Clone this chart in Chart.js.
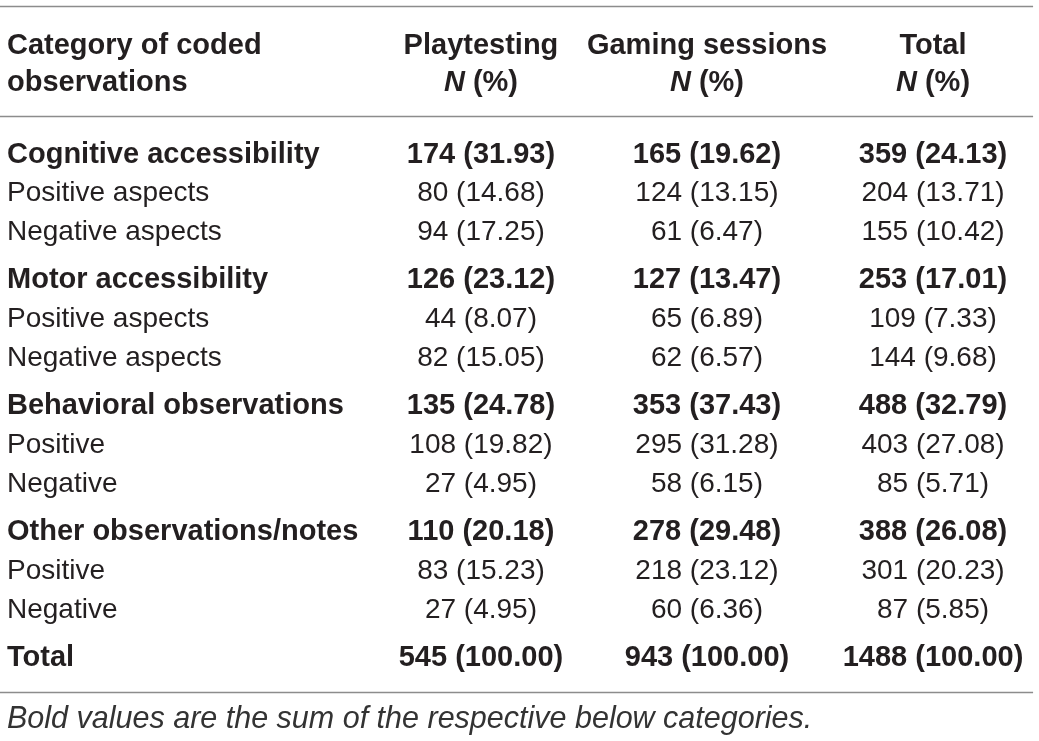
<!DOCTYPE html>
<html>
<head>
<meta charset="utf-8">
<script src="https://cdn.jsdelivr.net/npm/chart.js@4.4.1/dist/chart.umd.min.js"></script>
<style>
  body { margin: 0; background: #fff; }
  #tableChart { display: block; }
</style>
</head>
<body>
<canvas id="tableChart" width="1039" height="741"></canvas>
<script>
// table content
var columnTitles = ['Playtesting', 'Gaming sessions', 'Total'];
var stubTitle = ['Category of coded', 'observations'];
var rowLabels = [
    'Cognitive accessibility', 'Positive aspects', 'Negative aspects',
    'Motor accessibility', 'Positive aspects', 'Negative aspects',
    'Behavioral observations', 'Positive', 'Negative',
    'Other observations/notes', 'Positive', 'Negative',
    'Total'
];
// 'sum' rows are the bold ones
var rowKinds = ['sum', 'part', 'part', 'sum', 'part', 'part', 'sum', 'part', 'part', 'sum', 'part', 'part', 'sum'];

var playtestingN = [174, 80, 94, 126, 44, 82, 135, 108, 27, 110, 83, 27, 545];
var playtestingPct = [31.93, 14.68, 17.25, 23.12, 8.07, 15.05, 24.78, 19.82, 4.95, 20.18, 15.23, 4.95, 100.00];
var gamingN = [165, 124, 61, 127, 65, 62, 353, 295, 58, 278, 218, 60, 943];
var gamingPct = [19.62, 13.15, 6.47, 13.47, 6.89, 6.57, 37.43, 31.28, 6.15, 29.48, 23.12, 6.36, 100.00];
var totalN = [359, 204, 155, 253, 109, 144, 488, 403, 85, 388, 301, 87, 1488];
var totalPct = [24.13, 13.71, 10.42, 17.01, 7.33, 9.68, 32.79, 27.08, 5.71, 26.08, 20.23, 5.85, 100.00];

var footnote = 'Bold values are the sum of the respective below categories.';

var FONT = '"Liberation Sans", Arial, Helvetica, sans-serif';
var TEXT_COLOR = '#231f20';
var RULE_COLOR = '#8c8c8c';
var BOLD_SIZE = 29;
var REGULAR_SIZE = 28;
var NOTE_SIZE = 30.5;
var TEXT_DY = 3; // 'middle' sits a bit above the cap centre

// row slot on the y scale, a little extra gap before every bold row
function rowSlots() {
    var slots = [];
    var extra = 0;
    for (var i = 0; i < rowLabels.length; i++) {
        if (i > 0 && rowKinds[i] == 'sum') {
            extra += 0.22;
        }
        slots.push(i + extra);
    }
    return slots;
}

var slots = rowSlots();
var LABEL_COL = -1.097;

function cellText(n, pct) {
    return n + ' (' + pct.toFixed(2) + ')';
}

function buildDataset(colIndex, nValues, pctValues) {
    var points = [];
    var texts = [];
    for (var i = 0; i < nValues.length; i++) {
        points.push({x: colIndex, y: slots[i]});
        texts.push(cellText(nValues[i], pctValues[i]));
    }
    return {
        label: columnTitles[colIndex - 1],
        data: points,
        cellTexts: texts,
        align: 'center',
        pointRadius: 0,
        pointHoverRadius: 0
    };
}

var labelPoints = [];
for (var i = 0; i < rowLabels.length; i++) {
    labelPoints.push({x: LABEL_COL, y: slots[i]});
}

var datasets = [
    {
        label: 'Category',
        data: labelPoints,
        cellTexts: rowLabels,
        align: 'left',
        pointRadius: 0,
        pointHoverRadius: 0
    },
    buildDataset(1, playtestingN, playtestingPct),
    buildDataset(2, gamingN, gamingPct),
    buildDataset(3, totalN, totalPct)
];

function fontFor(bold, italic, size) {
    var px = size || (bold ? BOLD_SIZE : REGULAR_SIZE);
    return (italic ? 'italic ' : '') + (bold ? 'bold ' : '') + px + 'px ' + FONT;
}

var tablePlugin = {
    id: 'tableText',
    afterDatasetsDraw: function (chart) {
        var ctx = chart.ctx;
        var xs = chart.scales.x;
        var ys = chart.scales.y;
        ctx.save();
        ctx.fillStyle = TEXT_COLOR;
        ctx.textBaseline = 'middle';

        // rules
        ctx.strokeStyle = RULE_COLOR;
        ctx.lineWidth = 1.6;
        [-3.72, -0.91, 13.82].forEach(function (v) {
            var y = Math.round(ys.getPixelForValue(v)) + 0.5;
            ctx.beginPath();
            ctx.moveTo(xs.left, y);
            ctx.lineTo(xs.getPixelForValue(xs.min + 1033 / 226), y);
            ctx.stroke();
        });

        // header
        var h1 = ys.getPixelForValue(-2.775) + TEXT_DY;
        var h2 = ys.getPixelForValue(-1.83) + TEXT_DY;
        ctx.font = fontFor(true, false);
        ctx.textAlign = 'left';
        ctx.fillText(stubTitle[0], xs.getPixelForValue(LABEL_COL), h1);
        ctx.fillText(stubTitle[1], xs.getPixelForValue(LABEL_COL), h2);
        for (var c = 0; c < columnTitles.length; c++) {
            var cx = xs.getPixelForValue(c + 1);
            ctx.font = fontFor(true, false);
            ctx.textAlign = 'center';
            ctx.fillText(columnTitles[c], cx, h1);
            // "N (%)" with italic N
            ctx.textAlign = 'left';
            ctx.font = fontFor(true, true);
            var wN = ctx.measureText('N').width;
            ctx.font = fontFor(true, false);
            var wRest = ctx.measureText(' (%)').width;
            var startX = cx - (wN + wRest) / 2;
            ctx.font = fontFor(true, true);
            ctx.fillText('N', startX, h2);
            ctx.font = fontFor(true, false);
            ctx.fillText(' (%)', startX + wN, h2);
        }

        // body cells
        chart.data.datasets.forEach(function (ds, di) {
            var meta = chart.getDatasetMeta(di);
            meta.data.forEach(function (pt, i) {
                ctx.font = fontFor(rowKinds[i] == 'sum', false);
                ctx.textAlign = ds.align;
                ctx.fillText(ds.cellTexts[i], pt.x, pt.y + TEXT_DY);
            });
        });

        // footnote
        ctx.font = fontFor(false, true, NOTE_SIZE);
        ctx.textAlign = 'left';
        ctx.fillStyle = '#333333';
        ctx.fillText(footnote, xs.getPixelForValue(LABEL_COL), ys.getPixelForValue(14.46) + TEXT_DY);
        ctx.restore();
    }
};

var ctx = document.getElementById('tableChart');
var myChart = new Chart(ctx, {
    type: 'scatter',
    data: {
        datasets: datasets
    },
    options: {
        responsive: false,
        animation: false,
        events: [],
        layout: {
            padding: 0
        },
        plugins: {
            legend: {display: false},
            tooltip: {enabled: false}
        },
        scales: {
            x: {
                type: 'linear',
                display: false,
                min: -1.128,
                max: 3.469
            },
            y: {
                type: 'linear',
                display: false,
                reverse: true,
                min: -3.875,
                max: 15.077
            }
        }
    },
    plugins: [tablePlugin]
});
</script>
</body>
</html>
